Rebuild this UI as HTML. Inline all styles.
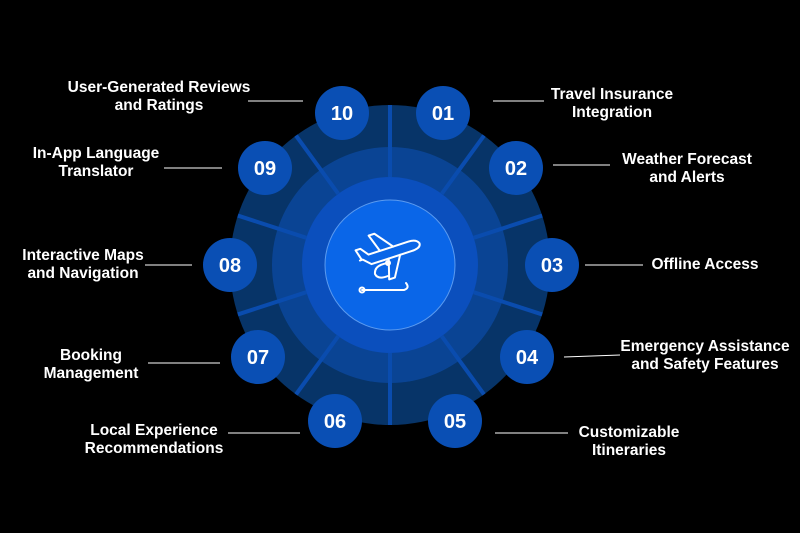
<!DOCTYPE html>
<html><head><meta charset="utf-8"><style>
html,body{margin:0;padding:0;background:#000;}
svg{display:block}
text{font-family:"Liberation Sans",sans-serif;fill:#fff;}
.lb{font-size:15.5px;font-weight:bold;}
.n{font-size:20px;font-weight:bold;}
</style></head><body>
<svg width="800" height="533" viewBox="0 0 800 533">
<rect width="800" height="533" fill="#000"/>
<circle cx="390" cy="265" r="160" fill="#073468"/>
<circle cx="390" cy="265" r="118" fill="#0a4494"/>
<g stroke="#0a4cae" stroke-width="4">
<line x1="390" y1="105" x2="390" y2="177"/>
<line x1="390" y1="425" x2="390" y2="353"/>
<g transform="rotate(36 390 265)"><line x1="390" y1="105" x2="390" y2="177"/><line x1="390" y1="425" x2="390" y2="353"/></g>
<g transform="rotate(72 390 265)"><line x1="390" y1="105" x2="390" y2="177"/><line x1="390" y1="425" x2="390" y2="353"/></g>
<g transform="rotate(108 390 265)"><line x1="390" y1="105" x2="390" y2="177"/><line x1="390" y1="425" x2="390" y2="353"/></g>
<g transform="rotate(144 390 265)"><line x1="390" y1="105" x2="390" y2="177"/><line x1="390" y1="425" x2="390" y2="353"/></g>
</g>
<circle cx="390" cy="265" r="88" fill="#0b4fbd"/>
<circle cx="390" cy="265" r="65" fill="#0a66e8" stroke="#5b9bf0" stroke-width="1"/>
<g fill="none" stroke="#fff" stroke-width="2" stroke-linejoin="round" stroke-linecap="round">
<g transform="translate(390 256) rotate(-18)">
<path d="M-30 -5 L-27 -5 L-20 2 L22 2 Q32 2 32 -3 Q30 -8 22 -8 L-20 -8 L-26 -16 L-31 -16 L-28 -5"/>
<path d="M-8 -8 L-14 -26 L-8 -26 L6 -8"/>
<path d="M-2 2 L-8 22 L-2 22 L10 2"/>
</g>
<path d="M388 263 Q374 265 375 274 Q378 280 388 276"/>
<circle cx="388" cy="263" r="2"/>
<path d="M362 290 L404 290 Q410 288 406 283"/>
<circle cx="362" cy="290" r="2.5"/>
</g>
<g stroke="#fff" stroke-width="1">
<line x1="248" y1="101" x2="303" y2="101"/>
<line x1="493" y1="101" x2="544" y2="101"/>
<line x1="553" y1="165" x2="610" y2="165"/>
<line x1="585" y1="265" x2="643" y2="265"/>
<line x1="564" y1="357" x2="620" y2="355"/>
<line x1="495" y1="433" x2="568" y2="433"/>
<line x1="228" y1="433" x2="300" y2="433"/>
<line x1="148" y1="363" x2="220" y2="363"/>
<line x1="145" y1="265" x2="192" y2="265"/>
<line x1="164" y1="168" x2="222" y2="168"/>
</g>
<g fill="#0a4fb4">
<circle cx="342" cy="113" r="27"/><circle cx="443" cy="113" r="27"/>
<circle cx="516" cy="168" r="27"/><circle cx="552" cy="265" r="27"/>
<circle cx="527" cy="357" r="27"/><circle cx="455" cy="421" r="27"/>
<circle cx="335" cy="421" r="27"/><circle cx="258" cy="357" r="27"/>
<circle cx="230" cy="265" r="27"/><circle cx="265" cy="168" r="27"/>
</g>
<g class="n" text-anchor="middle">
<text x="342" y="120">10</text><text x="443" y="120">01</text>
<text x="516" y="175">02</text><text x="552" y="272">03</text>
<text x="527" y="364">04</text><text x="455" y="428">05</text>
<text x="335" y="428">06</text><text x="258" y="364">07</text>
<text x="230" y="272">08</text><text x="265" y="175">09</text>
</g>
<g class="lb" text-anchor="middle">
<text x="159" y="92">User-Generated Reviews</text><text x="159" y="110">and Ratings</text>
<text x="612" y="99">Travel Insurance</text><text x="612" y="117">Integration</text>
<text x="687" y="164">Weather Forecast</text><text x="687" y="182">and Alerts</text>
<text x="705" y="269">Offline Access</text>
<text x="705" y="351">Emergency Assistance</text><text x="705" y="369">and Safety Features</text>
<text x="629" y="437">Customizable</text><text x="629" y="455">Itineraries</text>
<text x="154" y="435">Local Experience</text><text x="154" y="453">Recommendations</text>
<text x="91" y="360">Booking</text><text x="91" y="378">Management</text>
<text x="83" y="260">Interactive Maps</text><text x="83" y="278">and Navigation</text>
<text x="96" y="158">In-App Language</text><text x="96" y="176">Translator</text>
</g>
</svg>
</body></html>
